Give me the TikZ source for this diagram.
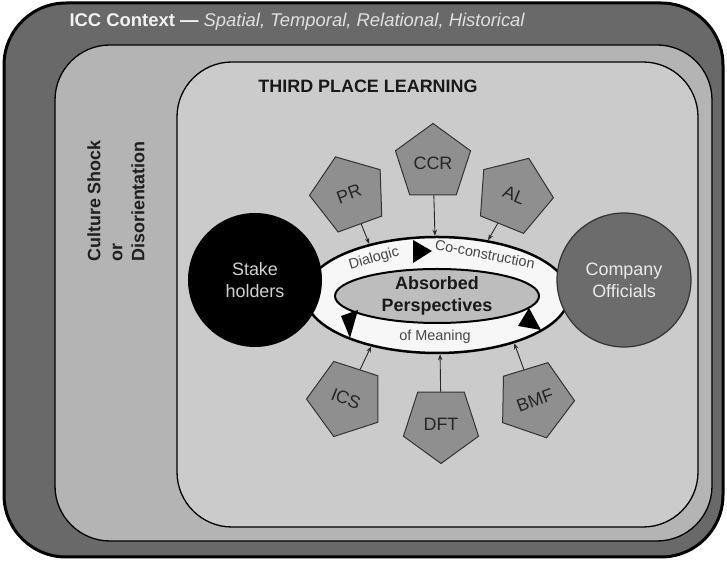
\documentclass[tikz,border=0pt]{standalone}
\usepackage{fontspec}
\setmainfont{Liberation Sans}
\usetikzlibrary{shapes.geometric,arrows.meta}
\definecolor{ctxgray}{HTML}{696969}
\definecolor{shockgray}{HTML}{B4B4B4}
\definecolor{placegray}{HTML}{CBCBCB}
\definecolor{pentgray}{HTML}{8F8F8F}
\definecolor{officegray}{HTML}{6C6C6C}
\definecolor{coregray}{HTML}{BDBDBD}
\definecolor{ringwhite}{HTML}{F7F7F7}

\begin{document}
\begin{tikzpicture}[x=1bp,y=1bp,
  every node/.style={font=\fontsize{18}{22}\selectfont},
  boldtext/.style={font=\bfseries\fontsize{18}{22}\selectfont},
  factor/.style={regular polygon, regular polygon sides=5, minimum size=79bp,
    inner sep=0pt, fill=pentgray, draw=black!80, line width=1bp, text=black!85},
  actor/.style={circle, minimum size=134bp, inner sep=0pt, line width=1.2bp, align=center},
  feed/.style={draw=black!85, line width=0.9bp, -{Stealth[length=6bp,width=4.5bp]}},
  ringtext/.style={font=\fontsize{14.5}{16}\selectfont, text=black!72},
]
\useasboundingbox (0,0) rectangle (727,562);

% nested context frames
\draw[fill=ctxgray, line width=3bp, rounded corners=62bp] (4,5) rectangle (723,559);
\draw[fill=shockgray, line width=1.3bp, rounded corners=55bp] (55,21) rectangle (712,517);
\draw[fill=placegray, line width=1.3bp, rounded corners=55bp] (177,35) rectangle (698,500);

% frame titles
\node[anchor=west, text=white!95!black, font=\fontsize{18.5}{22}\selectfont] (ctx) at (66,540)
  {\textbf{ICC Context —} \textit{\color{white!88!black}Spatial, Temporal, Relational, Historical}};
\node[boldtext, text=black!90] (tpl) at (368,476) {THIRD PLACE LEARNING};
\node[boldtext, rotate=90, align=left, text=black!88] (shock) at (116,361)
  {Culture Shock\\or\\Disorientation};

% meaning cycle
\node[ellipse, minimum width=264bp, minimum height=116bp, inner sep=0pt,
  fill=ringwhite, draw=black, line width=2.5bp] (ring) at (437,267) {};
\node[ellipse, minimum width=204bp, minimum height=54bp, inner sep=0pt,
  fill=coregray, draw=black, line width=2bp] (core) at (437,266) {};
\node[boldtext, align=center, text=black!90] (corelabel) at (core) {Absorbed\\Perspectives};

% cycle arrowheads
\fill (413,322) -- (413,299) -- (432,311) -- cycle;
\fill (341,246) -- (358,252) -- (350,224) -- cycle;
\fill (529,254) -- (518,236) -- (541,232) -- cycle;

\node[ringtext, rotate=16] (dia) at (374,303) {Dialogic};
\node[ringtext, rotate=-11] (cocon) at (485,308) {Co-construction};
\node[ringtext] (mean) at (435,225) {of Meaning};

% parties
\node[actor, fill=black, text=black!18] (stake) at (255,282) {Stake\\holders};
\node[actor, fill=officegray, draw=black!80, text=black!8] (officials) at (624,282) {Company\\Officials};

% contributing factors
\node[factor, rotate=20] (pr) at (349,368) {PR};
\node[factor] (ccr) at (433,399) {CCR};
\node[factor, rotate=-22] (al) at (514,367) {AL};
\node[factor, rotate=-22, shape border rotate=40] (ics) at (346,163) {ICS};
\node[factor, shape border rotate=180] (dft) at (441,138) {DFT};
\node[factor, rotate=20, shape border rotate=-39] (bmf) at (535,162) {BMF};

\draw[feed] (pr) -- (ring.143);
\draw[feed] (ccr) -- (ring.92);
\draw[feed] (al) -- (ring.47);
\draw[feed] (ics) -- (ring.218);
\draw[feed] (dft) -- (ring.273);
\draw[feed] (bmf) -- (ring.328);
\end{tikzpicture}
\end{document}
